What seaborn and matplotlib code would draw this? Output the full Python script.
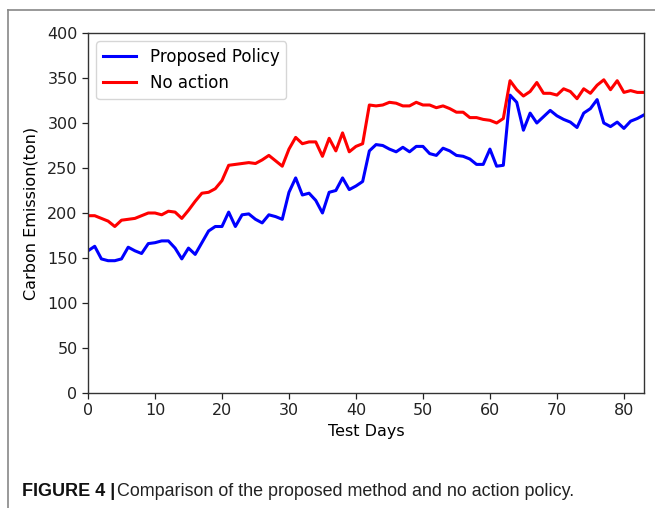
import numpy as np
import pandas as pd
import matplotlib
matplotlib.use("Agg")
import matplotlib.pyplot as plt
from matplotlib.lines import Line2D
import seaborn as sns

# Daily carbon emission (ton) for the two policies over the test period
days = list(range(84))
proposed_policy = [
    158, 163, 149, 147, 147, 149, 162, 158, 155, 166,
    167, 169, 169, 161, 149, 161, 154, 167, 180, 185,
    185, 201, 185, 198, 199, 193, 189, 198, 196, 193,
    223, 239, 220, 222, 214, 200, 223, 225, 239, 226,
    230, 235, 269, 276, 275, 271, 268, 273, 268, 274,
    274, 266, 264, 272, 269, 264, 263, 260, 254, 254,
    271, 252, 253, 331, 323, 292, 311, 300, 307, 314,
    308, 304, 301, 295, 311, 316, 326, 300, 296, 301,
    294, 302, 305, 309,
]
no_action = [
    197, 197, 194, 191, 185, 192, 193, 194, 197, 200,
    200, 198, 202, 201, 194, 203, 213, 222, 223, 227,
    236, 253, 254, 255, 256, 255, 259, 264, 258, 252,
    271, 284, 277, 279, 279, 263, 283, 269, 289, 268,
    274, 277, 320, 319, 320, 323, 322, 319, 319, 323,
    320, 320, 317, 319, 316, 312, 312, 306, 306, 304,
    303, 300, 305, 347, 337, 330, 335, 345, 333, 333,
    331, 338, 335, 327, 338, 333, 342, 348, 337, 347,
    334, 336, 334, 334,
]
series_names = ["Proposed Policy", "No action"]
series_colors = ["blue", "red"]
y_ticks = [0, 50, 100, 150, 200, 250, 300, 350, 400]
x_ticks = [0, 10, 20, 30, 40, 50, 60, 70, 80]

df = pd.concat([
    pd.DataFrame({"day": days, "emission": proposed_policy, "policy": series_names[0]}),
    pd.DataFrame({"day": days, "emission": no_action, "policy": series_names[1]}),
], ignore_index=True)

W, H = 655, 508
fig = plt.figure(figsize=(W / 100, H / 100), dpi=100)
ax = fig.add_axes([88 / W, 1 - 393 / H, (644 - 88) / W, (393 - 33) / H])

sns.lineplot(data=df, x="day", y="emission", hue="policy",
             palette=dict(zip(series_names, series_colors)),
             linewidth=2.2, ax=ax, legend=False)

ax.set_xlim(0, 83)
ax.set_ylim(0, 400)
ax.set_xticks(x_ticks)
ax.set_yticks(y_ticks)
ax.tick_params(labelsize=11.5, length=4, width=0.9, colors="#222222")
ax.set_xlabel("Test Days", fontsize=11.5, labelpad=4)
ax.set_ylabel("Carbon Emission(ton)", fontsize=11.5, labelpad=6)
for sp in ax.spines.values():
    sp.set_color("#333333")
    sp.set_linewidth(1.0)

handles = [Line2D([], [], color=c, lw=2.2) for c in series_colors]
ax.legend(handles, series_names, loc="upper left", fontsize=12,
          frameon=True, framealpha=0.8, edgecolor="#cccccc",
          handlelength=2.0, borderaxespad=0.5)

# Surrounding panel border
fig.add_artist(Line2D([8 / W, 8 / W], [0, 1 - 10 / H], color="#888888", lw=1.2,
                      transform=fig.transFigure))
fig.add_artist(Line2D([8 / W, 1], [1 - 10 / H, 1 - 10 / H], color="#888888", lw=1.2,
                      transform=fig.transFigure))

# Caption
cap_y = 1 - 491 / H
t1 = fig.text(22 / W, cap_y, "FIGURE 4 |", fontsize=13.0, fontweight="bold",
              family="Liberation Sans", va="center", ha="left", color="#111111")
fig.canvas.draw()
bb = t1.get_window_extent()
fig.text((bb.x1 + 2) / W, cap_y, "Comparison of the proposed method and no action policy.",
         fontsize=12.9, family="Liberation Sans", va="center", ha="left", color="#222222")

fig.savefig("out.png", dpi=100)
